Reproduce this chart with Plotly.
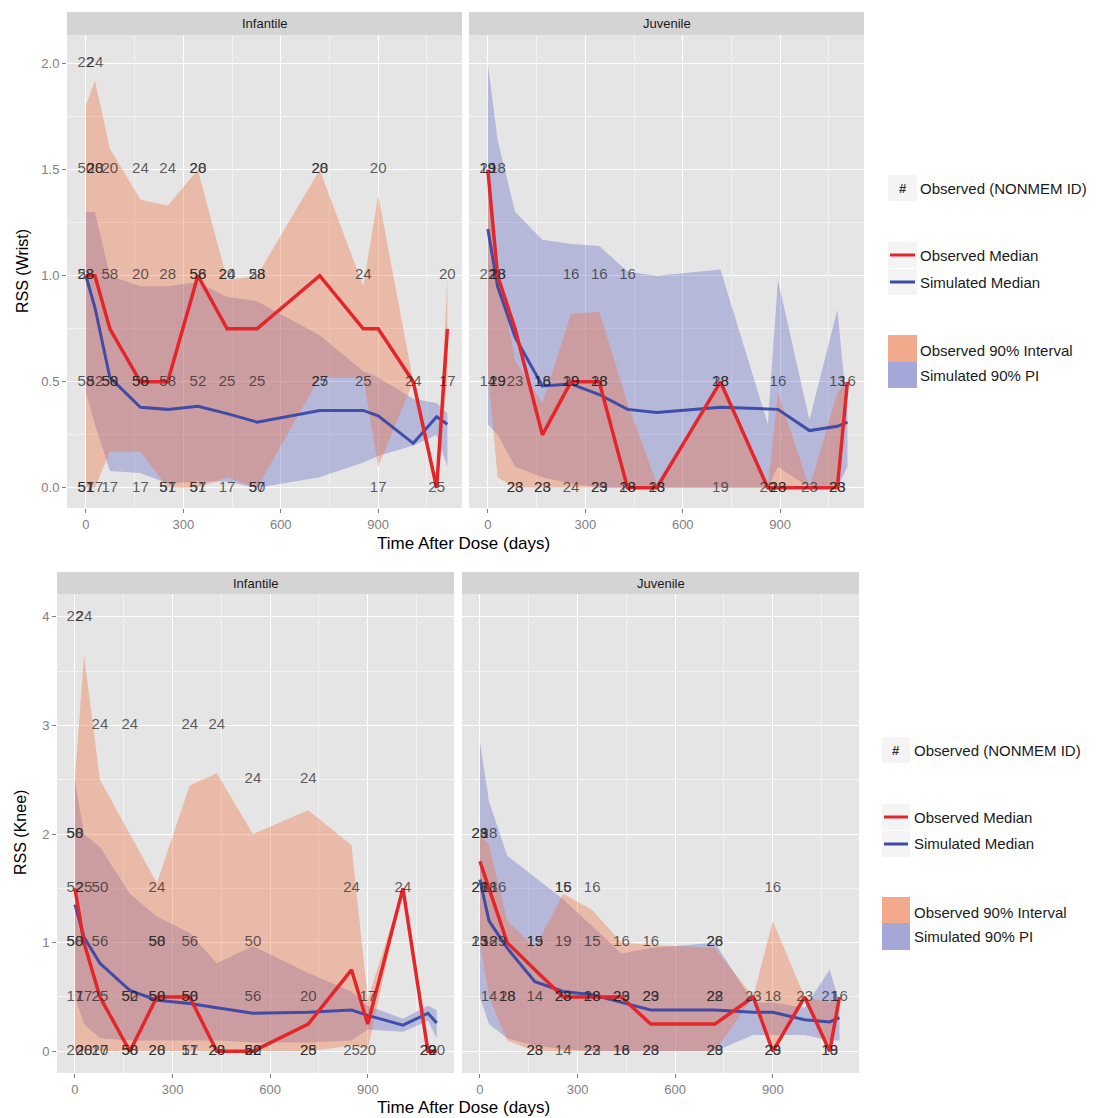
import plotly.graph_objects as go

W, H = 1097, 1118
FONT = "Liberation Sans, Arial, Helvetica, sans-serif"

# ================= DATA =================
# ---- Wrist, Infantile ----
wi_t = [0, 28, 74, 168, 252, 345, 435, 527, 720, 854, 900, 1008, 1080, 1113]
wi_obs_med = [1.0, 1.0, 0.75, 0.5, 0.5, 1.0, 0.75, 0.75, 1.0, 0.75, 0.75, 0.5, 0.0, 0.75]
wi_sim_med = [1.0, 0.85, 0.52, 0.38, 0.37, 0.385, 0.35, 0.31, 0.365, 0.365, 0.34, 0.21, 0.335, 0.30]
wi_obs_hi = [1.8, 1.92, 1.6, 1.36, 1.33, 1.5, 0.98, 1.0, 1.5, 0.95, 1.38, 0.5, 0.0, 0.98]
wi_obs_lo = [0.0, 0.0, 0.17, 0.17, 0.0, 0.0, 0.05, 0.0, 0.52, 0.52, 0.1, 0.5, 0.0, 0.52]
wi_sim_hi = [1.3, 1.3, 1.0, 0.95, 0.95, 0.97, 0.9, 0.88, 0.72, 0.55, 0.52, 0.42, 0.4, 0.35]
wi_sim_lo = [0.45, 0.3, 0.08, 0.07, 0.02, 0.03, 0.03, 0.0, 0.05, 0.12, 0.15, 0.2, 0.25, 0.1]
wi_lab_t = [0, 28,
            0, 28, 28, 74, 168, 252, 345, 345, 720, 720, 900,
            0, 0, 74, 168, 252, 345, 345, 435, 435, 527, 527, 854, 1113,
            0, 28, 74, 74, 168, 168, 252, 345, 435, 527, 720, 720, 854, 1008, 1113,
            0, 0, 28, 74, 168, 252, 252, 345, 345, 435, 527, 527, 900, 1080]
wi_lab_v = [2.0, 2.0,
            1.5, 1.5, 1.5, 1.5, 1.5, 1.5, 1.5, 1.5, 1.5, 1.5, 1.5,
            1.0, 1.0, 1.0, 1.0, 1.0, 1.0, 1.0, 1.0, 1.0, 1.0, 1.0, 1.0, 1.0,
            0.5, 0.5, 0.5, 0.5, 0.5, 0.5, 0.5, 0.5, 0.5, 0.5, 0.5, 0.5, 0.5, 0.5, 0.5,
            0.0, 0.0, 0.0, 0.0, 0.0, 0.0, 0.0, 0.0, 0.0, 0.0, 0.0, 0.0, 0.0, 0.0]
wi_lab_id = ["22", "24",
             "50", "20", "28", "20", "24", "24", "20", "28", "20", "28", "20",
             "28", "58", "58", "20", "28", "56", "58", "24", "20", "58", "28", "24", "20",
             "58", "52", "58", "50", "58", "50", "58", "52", "25", "25", "25", "27", "25", "24", "17",
             "57", "51", "17", "17", "17", "51", "57", "57", "51", "17", "50", "57", "17", "25"]

# ---- Wrist, Juvenile ----
wj_t = [0, 30, 84, 168, 256, 343, 430, 520, 716, 862, 893, 990, 1076, 1107]
wj_obs_med = [1.5, 1.0, 0.75, 0.25, 0.5, 0.5, 0.0, 0.0, 0.5, 0.0, 0.0, 0.0, 0.0, 0.5]
wj_sim_med = [1.22, 0.95, 0.71, 0.48, 0.49, 0.44, 0.37, 0.355, 0.38, 0.37, 0.37, 0.27, 0.29, 0.31]
wj_obs_hi = [1.5, 1.05, 0.6, 0.4, 0.82, 0.83, 0.4, 0.02, 0.5, 0.0, 0.45, 0.0, 0.45, 0.5]
wj_obs_lo = [0.55, 0.05, 0.0, 0.0, 0.0, 0.0, 0.0, 0.0, 0.0, 0.0, 0.0, 0.0, 0.0, 0.5]
wj_sim_hi = [2.0, 1.64, 1.3, 1.17, 1.15, 1.14, 1.02, 1.0, 1.03, 0.3, 0.98, 0.32, 0.84, 0.35]
wj_sim_lo = [0.3, 0.25, 0.1, 0.05, 0.02, 0.0, 0.0, 0.0, 0.0, 0.0, 0.1, 0.0, 0.0, 0.1]
wj_lab_t = [0, 0, 30,
            0, 30, 30, 256, 343, 430,
            0, 30, 30, 84, 168, 168, 256, 256, 343, 343, 716, 716, 893, 1076, 1107,
            84, 84, 168, 168, 256, 343, 343, 430, 430, 520, 520, 716, 862, 893, 893, 990, 1076, 1076]
wj_lab_v = [1.5, 1.5, 1.5,
            1.0, 1.0, 1.0, 1.0, 1.0, 1.0,
            0.5, 0.5, 0.5, 0.5, 0.5, 0.5, 0.5, 0.5, 0.5, 0.5, 0.5, 0.5, 0.5, 0.5, 0.5,
            0.0, 0.0, 0.0, 0.0, 0.0, 0.0, 0.0, 0.0, 0.0, 0.0, 0.0, 0.0, 0.0, 0.0, 0.0, 0.0, 0.0, 0.0]
wj_lab_id = ["29", "19", "18",
             "22", "18", "28", "16", "16", "16",
             "14", "19", "29", "23", "18", "16", "19", "29", "18", "28", "18", "28", "16", "13", "16",
             "28", "23", "28", "23", "24", "23", "29", "28", "18", "18", "23", "19", "20", "28", "23", "23", "23", "28"]

# ---- Knee, Infantile ----
ki_t = [0, 28, 77, 169, 252, 353, 436, 547, 717, 850, 900, 1008, 1085, 1112]
ki_obs_med = [1.5, 1.0, 0.5, 0.0, 0.5, 0.5, 0.0, 0.0, 0.25, 0.75, 0.25, 1.5, 0.0, 0.0]
ki_sim_med = [1.35, 1.05, 0.81, 0.56, 0.47, 0.44, 0.40, 0.35, 0.36, 0.38, 0.33, 0.24, 0.35, 0.26]
ki_obs_hi = [2.5, 3.65, 2.5, 2.0, 1.55, 2.45, 2.56, 2.0, 2.22, 1.9, 0.48, 1.5, 0.0, 0.0]
ki_obs_lo = [0.0, 0.0, 0.0, 0.0, 0.0, 0.0, 0.0, 0.0, 0.0, 0.05, 0.02, 1.5, 0.0, 0.0]
ki_sim_hi = [2.5, 2.0, 1.88, 1.45, 1.24, 1.09, 0.81, 0.97, 0.72, 0.55, 0.42, 0.3, 0.42, 0.38]
ki_sim_lo = [0.5, 0.25, 0.12, 0.1, 0.1, 0.1, 0.1, 0.08, 0.08, 0.1, 0.2, 0.18, 0.28, 0.12]
ki_lab_t = [0, 28,
            77, 169, 353, 436,
            547, 717,
            0, 0,
            0, 28, 77, 252, 850, 1008,
            0, 0, 77, 252, 252, 353, 547,
            0, 28, 77, 169, 169, 252, 252, 353, 353, 547, 717, 900,
            0, 28, 28, 77, 77, 169, 169, 252, 252, 353, 353, 436, 436, 547, 547, 547,
            717, 717, 850, 900, 1085, 1085, 1112]
ki_lab_v = [4, 4,
            3, 3, 3, 3,
            2.5, 2.5,
            2, 2,
            1.5, 1.5, 1.5, 1.5, 1.5, 1.5,
            1, 1, 1, 1, 1, 1, 1,
            0.5, 0.5, 0.5, 0.5, 0.5, 0.5, 0.5, 0.5, 0.5, 0.5, 0.5, 0.5,
            0, 0, 0, 0, 0, 0, 0, 0, 0, 0, 0, 0, 0, 0, 0, 0,
            0, 0, 0, 0, 0, 0, 0]
ki_lab_id = ["22", "24",
             "24", "24", "24", "24",
             "24", "24",
             "58", "50",
             "52", "25", "50", "24", "24", "24",
             "50", "58", "56", "50", "58", "56", "50",
             "17", "17", "25", "50", "52", "58", "50", "58", "50", "56", "20", "17",
             "20", "20", "28", "17", "20", "50", "58", "20", "28", "51", "17", "28", "20", "50", "52", "22",
             "28", "25", "25", "20", "29", "20", "20"]

# ---- Knee, Juvenile ----
kj_t = [0, 28, 84, 169, 256, 345, 435, 525, 722, 840, 900, 998, 1075, 1105]
kj_obs_med = [1.75, 1.5, 1.0, 0.75, 0.5, 0.5, 0.5, 0.25, 0.25, 0.5, 0.0, 0.5, 0.0, 0.5]
kj_sim_med = [1.58, 1.2, 0.95, 0.64, 0.55, 0.52, 0.45, 0.38, 0.38, 0.36, 0.36, 0.29, 0.27, 0.31]
kj_obs_hi = [2.0, 1.9, 1.2, 0.95, 1.45, 1.3, 1.0, 0.98, 0.95, 0.5, 1.2, 0.5, 0.45, 0.5]
kj_obs_lo = [1.0, 0.5, 0.1, 0.0, 0.0, 0.0, 0.0, 0.0, 0.0, 0.5, 0.0, 0.5, 0.0, 0.5]
kj_sim_hi = [2.85, 2.3, 1.8, 1.6, 1.4, 1.15, 0.9, 0.95, 1.0, 0.45, 0.45, 0.4, 0.75, 0.45]
kj_sim_lo = [0.5, 0.25, 0.12, 0.05, 0.02, 0.0, 0.0, 0.0, 0.0, 0.15, 0.15, 0.15, 0.1, 0.1]
kj_lab_t = [0, 0, 28,
            0, 0, 28, 56, 256, 256, 345, 900,
            0, 0, 28, 56, 169, 169, 256, 345, 435, 525, 722, 722,
            28, 84, 84, 169, 256, 256, 345, 345, 435, 435, 525, 525, 722, 722, 840, 900, 998, 1075, 1105,
            169, 169, 256, 345, 345, 435, 435, 525, 525, 722, 722, 900, 900, 1075, 1075]
kj_lab_v = [2, 2, 2,
            1.5, 1.5, 1.5, 1.5, 1.5, 1.5, 1.5, 1.5,
            1, 1, 1, 1, 1, 1, 1, 1, 1, 1, 1, 1,
            0.5, 0.5, 0.5, 0.5, 0.5, 0.5, 0.5, 0.5, 0.5, 0.5, 0.5, 0.5, 0.5, 0.5, 0.5, 0.5, 0.5, 0.5, 0.5,
            0, 0, 0, 0, 0, 0, 0, 0, 0, 0, 0, 0, 0, 0, 0]
kj_lab_id = ["29", "28", "18",
             "21", "28", "18", "16", "15", "16", "16", "16",
             "15", "23", "18", "29", "19", "15", "19", "15", "16", "16", "26", "28",
             "14", "18", "28", "14", "23", "28", "18", "28", "23", "29", "23", "29", "28", "22", "23", "18", "23", "21", "16",
             "23", "28", "14", "23", "22", "18", "16", "28", "23", "29", "28", "23", "29", "19", "18"]

x_ticks = [0, 300, 600, 900]
x_minor = [150, 450, 750, 1050]
wrist_y_ticks = [0.0, 0.5, 1.0, 1.5, 2.0]
wrist_y_minor = [0.25, 0.75, 1.25, 1.75]
knee_y_ticks = [0, 1, 2, 3, 4]
knee_y_minor = [0.5, 1.5, 2.5, 3.5]

# ================= STYLE =================
C_OBS_FILL = "rgba(244,110,60,0.36)"
C_SIM_FILL = "rgba(70,80,190,0.30)"
C_OBS_LINE = "#E3262A"
C_SIM_LINE = "rgba(50,65,165,0.9)"
C_TEXT = "rgba(35,35,35,0.72)"
BG = "#E5E5E5"


def px(x):
    return x / W


def py(y):
    return 1 - y / H


fig = go.Figure()

panels = [
    (wi_t, wi_obs_med, wi_sim_med, wi_obs_hi, wi_obs_lo, wi_sim_hi, wi_sim_lo, wi_lab_t, wi_lab_v, wi_lab_id, ""),
    (wj_t, wj_obs_med, wj_sim_med, wj_obs_hi, wj_obs_lo, wj_sim_hi, wj_sim_lo, wj_lab_t, wj_lab_v, wj_lab_id, "2"),
    (ki_t, ki_obs_med, ki_sim_med, ki_obs_hi, ki_obs_lo, ki_sim_hi, ki_sim_lo, ki_lab_t, ki_lab_v, ki_lab_id, "3"),
    (kj_t, kj_obs_med, kj_sim_med, kj_obs_hi, kj_obs_lo, kj_sim_hi, kj_sim_lo, kj_lab_t, kj_lab_v, kj_lab_id, "4"),
]

for (t, om, sm, ohi, olo, shi, slo, lt, lv, lid, sfx) in panels:
    xa = "x" + sfx
    ya = "y" + sfx
    # simulated 90% PI ribbon
    fig.add_trace(go.Scatter(x=list(t) + list(t)[::-1], y=list(shi) + list(slo)[::-1],
                             fill="toself", fillcolor=C_SIM_FILL, line=dict(width=0),
                             mode="lines", hoverinfo="skip", xaxis=xa, yaxis=ya, showlegend=False))
    # observed 90% interval ribbon
    fig.add_trace(go.Scatter(x=list(t) + list(t)[::-1], y=list(ohi) + list(olo)[::-1],
                             fill="toself", fillcolor=C_OBS_FILL, line=dict(width=0),
                             mode="lines", hoverinfo="skip", xaxis=xa, yaxis=ya, showlegend=False))
    # simulated median
    fig.add_trace(go.Scatter(x=t, y=sm, mode="lines", line=dict(color=C_SIM_LINE, width=3),
                             hoverinfo="skip", xaxis=xa, yaxis=ya, showlegend=False))
    # observed median
    fig.add_trace(go.Scatter(x=t, y=om, mode="lines", line=dict(color=C_OBS_LINE, width=3.5),
                             hoverinfo="skip", xaxis=xa, yaxis=ya, showlegend=False))
    # observed IDs
    fig.add_trace(go.Scatter(x=lt, y=lv, text=lid, mode="text", textposition="middle center",
                             textfont=dict(family=FONT, size=15, color=C_TEXT),
                             hoverinfo="skip", xaxis=xa, yaxis=ya, showlegend=False, cliponaxis=False))

# ================= AXES =================
top_y0, top_y1 = 35, 508
bot_y0, bot_y1 = 594, 1073
pan = {
    "": (67, 462, top_y0, top_y1),
    "2": (469, 864, top_y0, top_y1),
    "3": (57, 454, bot_y0, bot_y1),
    "4": (462, 859, bot_y0, bot_y1),
}
x_rng_top = [-58, 1158]
x_rng_bot = [-55, 1165]
y_rng_top = [-0.095, 2.135]
y_rng_bot = [-0.2, 4.21]

tickfont = dict(family=FONT, size=13, color="#808080")

layout_axes = {}
for sfx, (x0, x1, y0, y1) in pan.items():
    is_top = sfx in ("", "2")
    is_left = sfx in ("", "3")
    layout_axes["xaxis" + sfx] = dict(
        domain=[px(x0), px(x1)], anchor="y" + sfx,
        range=x_rng_top if is_top else x_rng_bot,
        tickmode="array", tickvals=x_ticks, ticktext=[str(v) for v in x_ticks],
        showgrid=True, gridcolor="white", gridwidth=1.4, zeroline=False, showline=False,
        ticks="outside", ticklen=4, tickwidth=1, tickcolor="#7F7F7F", tickfont=tickfont,
        minor=dict(tickvals=x_minor, showgrid=True, gridcolor="#F2F2F2", gridwidth=0.8, ticks=""),
        fixedrange=True,
    )
    ytv = wrist_y_ticks if is_top else knee_y_ticks
    layout_axes["yaxis" + sfx] = dict(
        domain=[py(y1), py(y0)], anchor="x" + sfx,
        range=y_rng_top if is_top else y_rng_bot,
        tickmode="array", tickvals=ytv,
        ticktext=[("%.1f" % v) if is_top else str(v) for v in ytv],
        showticklabels=is_left,
        showgrid=True, gridcolor="white", gridwidth=1.4, zeroline=False, showline=False,
        ticks="outside" if is_left else "", ticklen=4, tickwidth=1, tickcolor="#7F7F7F",
        tickfont=tickfont,
        minor=dict(tickvals=wrist_y_minor if is_top else knee_y_minor, showgrid=True,
                   gridcolor="#F2F2F2", gridwidth=0.8, ticks=""),
        fixedrange=True,
    )

shapes = []
annotations = []

# strips
strips = [(67, 462, 12, 35, "Infantile"), (469, 864, 12, 35, "Juvenile"),
          (57, 454, 572, 594, "Infantile"), (462, 859, 572, 594, "Juvenile")]
for x0, x1, y0, y1, lab in strips:
    shapes.append(dict(type="rect", xref="paper", yref="paper", x0=px(x0), x1=px(x1),
                       y0=py(y1), y1=py(y0), fillcolor="#D4D4D4", line=dict(width=0), layer="below"))
    annotations.append(dict(xref="paper", yref="paper", x=px((x0 + x1) / 2), y=py((y0 + y1) / 2),
                            text=lab, showarrow=False, xanchor="center", yanchor="middle",
                            font=dict(family=FONT, size=13, color="#1A1A1A")))

# axis titles
for ycen, txt in [(543, "Time After Dose (days)"), (1107, "Time After Dose (days)")]:
    annotations.append(dict(xref="paper", yref="paper", x=px(463), y=py(ycen), text=txt,
                            showarrow=False, xanchor="center", yanchor="middle",
                            font=dict(family=FONT, size=17, color="#000000")))
for xc, ycen, txt in [(22, 271, "RSS (Wrist)"), (20, 833, "RSS (Knee)")]:
    annotations.append(dict(xref="paper", yref="paper", x=px(xc), y=py(ycen), text=txt,
                            showarrow=False, xanchor="center", yanchor="middle", textangle=-90,
                            font=dict(family=FONT, size=16, color="#000000")))

# legends
legends = [
    (888, 917, 918, 188, 255, 282, 335, 362, 388),
    (882, 910, 912, 750, 817, 844, 897, 923, 950),
]
lfont = dict(family=FONT, size=15, color="#1A1A1A")
for kx0, kx1, tx, hy, ry, by, f0, fm, f1 in legends:
    for yc in (hy, ry, by):
        shapes.append(dict(type="rect", xref="paper", yref="paper", x0=px(kx0), x1=px(kx1),
                           y0=py(yc + 13), y1=py(yc - 13), fillcolor="#F4F4F4",
                           line=dict(width=0), layer="below"))
    annotations.append(dict(xref="paper", yref="paper", x=px((kx0 + kx1) / 2), y=py(hy),
                            text="<b>#</b>", showarrow=False, xanchor="center", yanchor="middle",
                            font=dict(family=FONT, size=13, color="#333333")))
    annotations.append(dict(xref="paper", yref="paper", x=px(tx), y=py(hy),
                            text="Observed (NONMEM ID)", showarrow=False, xanchor="left",
                            yanchor="middle", font=lfont))
    shapes.append(dict(type="line", xref="paper", yref="paper", x0=px(kx0 + 2), x1=px(kx1 - 2),
                       y0=py(ry), y1=py(ry), line=dict(color=C_OBS_LINE, width=3)))
    shapes.append(dict(type="line", xref="paper", yref="paper", x0=px(kx0 + 2), x1=px(kx1 - 2),
                       y0=py(by), y1=py(by), line=dict(color="#3D4BA6", width=3)))
    annotations.append(dict(xref="paper", yref="paper", x=px(tx), y=py(ry), text="Observed Median",
                            showarrow=False, xanchor="left", yanchor="middle", font=lfont))
    annotations.append(dict(xref="paper", yref="paper", x=px(tx), y=py(by), text="Simulated Median",
                            showarrow=False, xanchor="left", yanchor="middle", font=lfont))
    shapes.append(dict(type="rect", xref="paper", yref="paper", x0=px(kx0), x1=px(kx1),
                       y0=py(fm), y1=py(f0), fillcolor="#F3A98B", line=dict(width=0)))
    shapes.append(dict(type="rect", xref="paper", yref="paper", x0=px(kx0), x1=px(kx1),
                       y0=py(f1), y1=py(fm), fillcolor="#A3A8D8", line=dict(width=0)))
    annotations.append(dict(xref="paper", yref="paper", x=px(tx), y=py((f0 + fm) / 2 + 2),
                            text="Observed 90% Interval", showarrow=False, xanchor="left",
                            yanchor="middle", font=lfont))
    annotations.append(dict(xref="paper", yref="paper", x=px(tx), y=py((fm + f1) / 2),
                            text="Simulated 90% PI", showarrow=False, xanchor="left",
                            yanchor="middle", font=lfont))

fig.update_layout(
    width=W, height=H, autosize=False,
    margin=dict(l=0, r=0, t=0, b=0),
    paper_bgcolor="white", plot_bgcolor=BG,
    showlegend=False,
    shapes=shapes, annotations=annotations,
    font=dict(family=FONT),
    **layout_axes,
)

fig.write_html("out.html", config={"displayModeBar": False})
